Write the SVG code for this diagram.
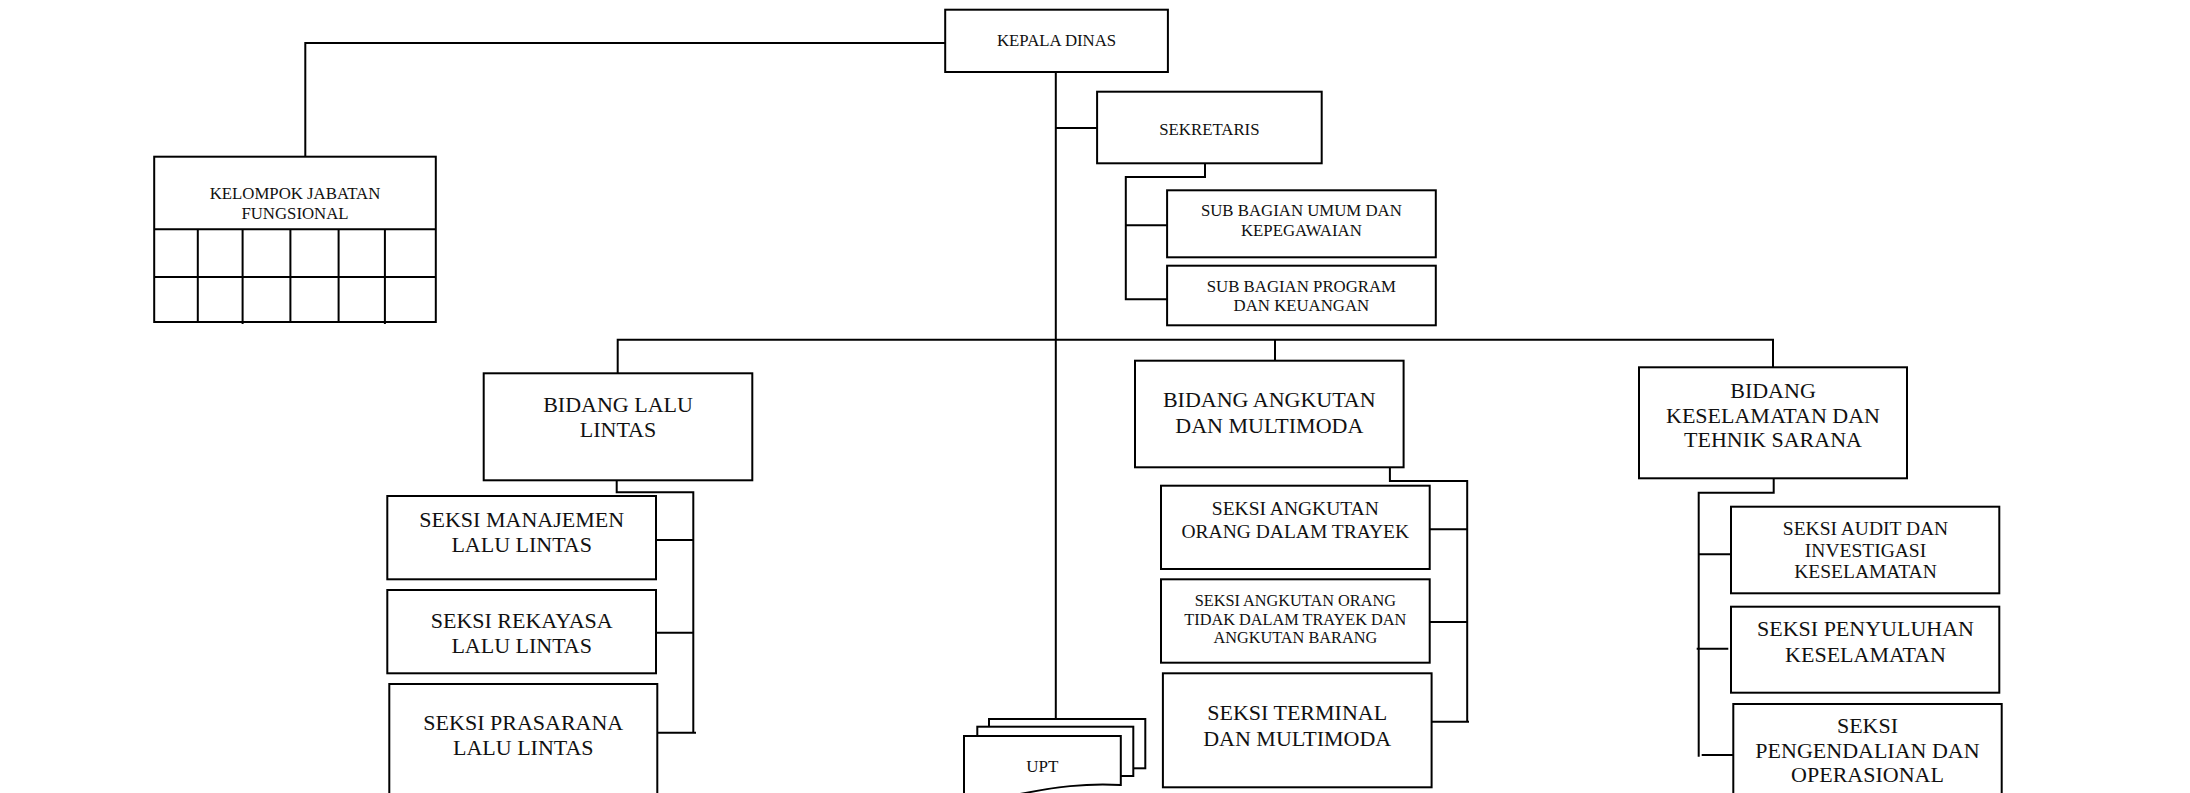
<svg xmlns="http://www.w3.org/2000/svg" width="2190" height="793" viewBox="0 0 2190 793">
<style>
.box{fill:#fff;stroke:#000;stroke-width:2}
.ln{fill:none;stroke:#000;stroke-width:2}
text{font-family:"Liberation Serif","Times New Roman",serif;text-anchor:middle;fill:#111}
.s{font-size:16.8px}
.m{font-size:19.5px}
.l{font-size:22px}
</style>
<rect width="2190" height="793" fill="#fff"/>
<g id="connectors">
<path class="ln" d="M305.3,157 V43 H945"/>
<path class="ln" d="M1055.8,72 V727"/>
<path class="ln" d="M1055.8,128 H1097"/>
<path class="ln" d="M1205,163.3 V177 H1125.8 V299.3 H1167"/>
<path class="ln" d="M1125.8,225.3 H1167"/>
<path class="ln" d="M617.7,373.3 V339.7 H1773 V367.3"/>
<path class="ln" d="M1275,339.7 V360.7"/>
<path class="ln" d="M616.7,480.3 V492.3 H693.3 V732.7"/>
<path class="ln" d="M653.3,540 H693.3 M653.3,632.7 H693.3 M656,732.7 H696"/>
<path class="ln" d="M1389.9,467.3 V481 H1467.2 V721.7"/>
<path class="ln" d="M1426.6,529.3 H1467.2 M1426.6,622 H1467.2 M1429.3,721.7 H1469"/>
<path class="ln" d="M1773.7,478.3 V492.7 H1698.7 V756.7"/>
<path class="ln" d="M1698.7,554.3 H1731 M1696.7,648.7 H1728.3 M1701.7,755 H1733"/>
</g>
<g id="kepala-dinas">
<rect class="box" x="945.2" y="9.7" width="222.7" height="62.3"/>
<text class="s" x="1056.6" y="45.7">KEPALA DINAS</text>
</g>
<g id="kelompok-jabatan-fungsional">
<rect class="box" x="154.2" y="156.7" width="281.6" height="165.3"/>
<path class="ln" d="M154.2,229.3 H435.8 M154.2,277 H435.8 M197.8,229.3 V322 M242.6,229.3 V324 M290.4,229.3 V322 M338.6,229.3 V322 M384.9,229.3 V324"/>
<text class="s" x="295" y="199">KELOMPOK JABATAN</text>
<text class="s" x="295" y="219.3">FUNGSIONAL</text>
</g>
<g id="sekretaris">
<rect class="box" x="1097.1" y="91.7" width="224.6" height="71.6"/>
<text class="s" x="1209.4" y="135">SEKRETARIS</text>
</g>
<g id="sub-bagian-umum">
<rect class="box" x="1167.1" y="190.3" width="268.7" height="67"/>
<text class="s" x="1301.4" y="216">SUB BAGIAN UMUM DAN</text>
<text class="s" x="1301.4" y="235.7">KEPEGAWAIAN</text>
</g>
<g id="sub-bagian-program">
<rect class="box" x="1167.1" y="265.7" width="268.7" height="59.6"/>
<text class="s" x="1301.4" y="291.7">SUB BAGIAN PROGRAM</text>
<text class="s" x="1301.4" y="310.7">DAN KEUANGAN</text>
</g>
<g id="bidang-lalu-lintas">
<rect class="box" x="483.7" y="373.3" width="268.6" height="107"/>
<text class="l" x="618" y="411.7">BIDANG LALU</text>
<text class="l" x="618" y="436.7">LINTAS</text>
</g>
<g id="seksi-manajemen">
<rect class="box" x="387.3" y="496" width="268.7" height="83.3"/>
<text class="l" x="521.7" y="527.3">SEKSI MANAJEMEN</text>
<text class="l" x="521.7" y="551.7">LALU LINTAS</text>
</g>
<g id="seksi-rekayasa">
<rect class="box" x="387.3" y="590" width="268.7" height="83.3"/>
<text class="l" x="521.7" y="628.3">SEKSI REKAYASA</text>
<text class="l" x="521.7" y="653.3">LALU LINTAS</text>
</g>
<g id="seksi-prasarana">
<rect class="box" x="389.3" y="684" width="268" height="120"/>
<text class="l" x="523.3" y="730">SEKSI PRASARANA</text>
<text class="l" x="523.3" y="755">LALU LINTAS</text>
</g>
<g id="bidang-angkutan">
<rect class="box" x="1135" y="360.7" width="268.6" height="106.6"/>
<text class="l" x="1269.3" y="406.7">BIDANG ANGKUTAN</text>
<text class="l" x="1269.3" y="432.7">DAN MULTIMODA</text>
</g>
<g id="seksi-angkutan-dalam-trayek">
<rect class="box" x="1161" y="485.7" width="268.7" height="83.3"/>
<text class="m" x="1295.3" y="515">SEKSI ANGKUTAN</text>
<text class="m" x="1295.3" y="537.7">ORANG DALAM TRAYEK</text>
</g>
<g id="seksi-angkutan-tidak-dalam-trayek">
<rect class="box" x="1161" y="579.3" width="268.7" height="83.4"/>
<text style="font-size:16.3px" x="1295.3" y="606">SEKSI ANGKUTAN ORANG</text>
<text style="font-size:16.3px" x="1295.3" y="625">TIDAK DALAM TRAYEK DAN</text>
<text style="font-size:16.3px" x="1295.3" y="643.3">ANGKUTAN BARANG</text>
</g>
<g id="seksi-terminal">
<rect class="box" x="1162.9" y="673.3" width="268.7" height="114"/>
<text class="l" x="1297.2" y="720">SEKSI TERMINAL</text>
<text class="l" x="1297.2" y="746">DAN MULTIMODA</text>
</g>
<g id="upt">
<rect class="box" x="989" y="719" width="156.3" height="49.3"/>
<rect class="box" x="977.3" y="726.7" width="156" height="49.3"/>
<path class="box" d="M964,736 H1120.8 V785 C1085,783 1055,787 1020,794 C995,799 980,800 964,799 Z"/>
<text style="font-size:17px" x="1042.3" y="771.7">UPT</text>
</g>
<g id="bidang-keselamatan">
<rect class="box" x="1639" y="367.3" width="268" height="111"/>
<text class="l" x="1773" y="398.3">BIDANG</text>
<text class="l" x="1773" y="422.7">KESELAMATAN DAN</text>
<text class="l" x="1773" y="447.3">TEHNIK SARANA</text>
</g>
<g id="seksi-audit">
<rect class="box" x="1731" y="506.7" width="268.3" height="86.6"/>
<text class="m" x="1865.5" y="535">SEKSI AUDIT DAN</text>
<text class="m" x="1865.5" y="556.7">INVESTIGASI</text>
<text class="m" x="1865.5" y="578.3">KESELAMATAN</text>
</g>
<g id="seksi-penyuluhan">
<rect class="box" x="1731" y="606.7" width="268.3" height="86"/>
<text class="l" x="1865.5" y="636">SEKSI PENYULUHAN</text>
<text class="l" x="1865.5" y="662.3">KESELAMATAN</text>
</g>
<g id="seksi-pengendalian">
<rect class="box" x="1733.3" y="704" width="268.4" height="110"/>
<text class="l" x="1867.5" y="733.3">SEKSI</text>
<text class="l" x="1867.5" y="757.7">PENGENDALIAN DAN</text>
<text class="l" x="1867.5" y="781.7">OPERASIONAL</text>
</g>
</svg>
